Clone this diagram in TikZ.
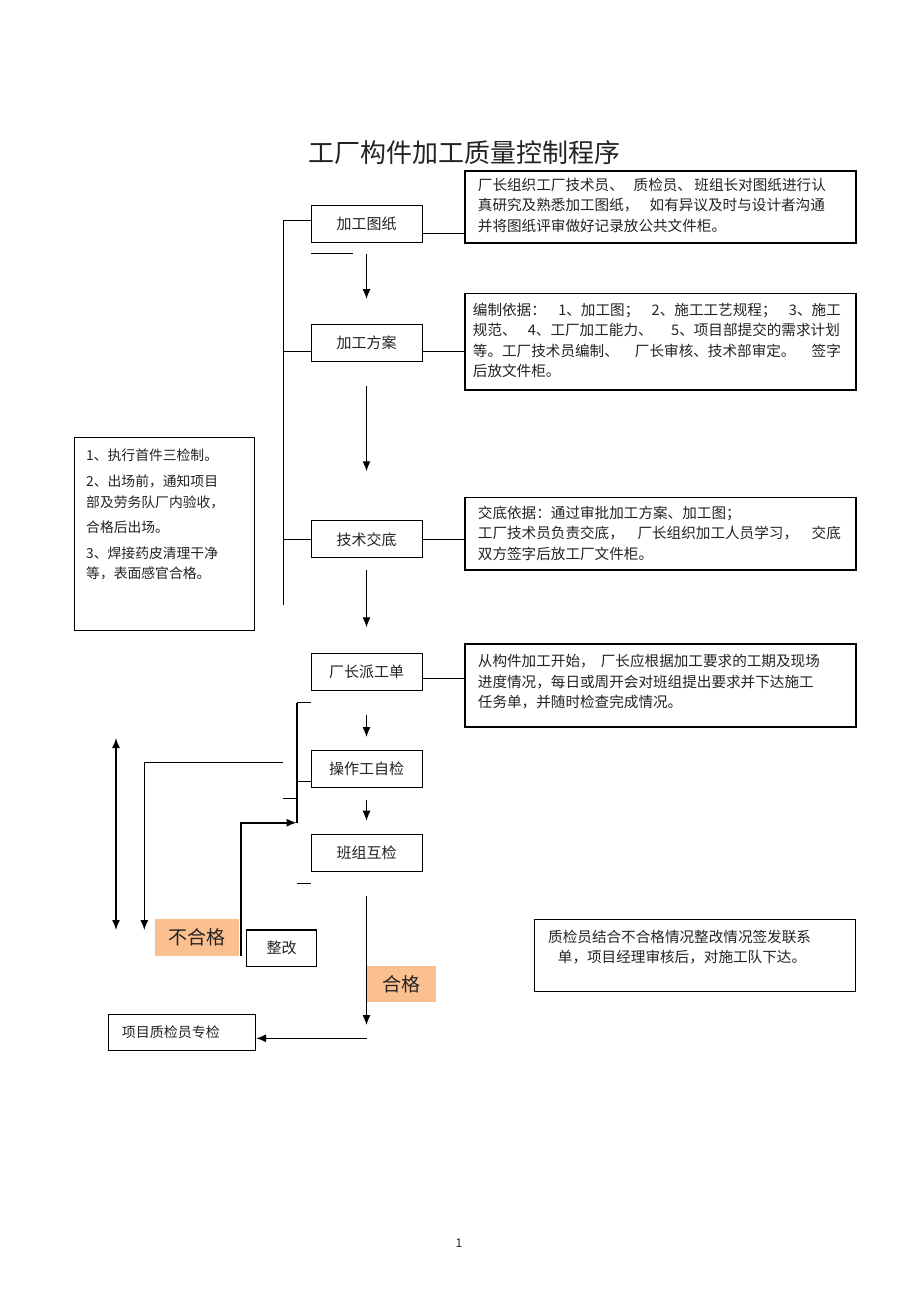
\documentclass[tikz,border=0pt]{standalone}
\usepackage{fontspec}
\newfontfamily\cjk{Noto Sans CJK SC}
\usetikzlibrary{arrows.meta,calc}
\definecolor{okfill}{RGB}{250,192,143}
\definecolor{ink}{RGB}{35,35,35}
\newcommand{\jl}[2]{\makebox[#1][s]{#2}}
\begin{document}
\begin{tikzpicture}[x=1pt,y=-1pt,
  every node/.style={text=ink},
  proc/.style={draw, line width=1pt, minimum width=111pt, minimum height=37pt, inner sep=0pt, font=\cjk\fontsize{15}{18}\selectfont},
  desc/.style={draw, line width=1.5pt, anchor=north west, inner sep=0pt},
  dtext/.style={anchor=north west, align=left, inner sep=0pt, font=\cjk\fontsize{14.6}{20.5}\selectfont},
  ln/.style={line width=0.8pt},
  thk/.style={line width=1.6pt},
  arr/.style={line width=1.1pt, -{Latex[length=10pt,width=8pt]}},
  darr/.style={line width=1.4pt, {Latex[length=10pt,width=8pt]}-{Latex[length=10pt,width=8pt]}},
  okbox/.style={fill=okfill, inner sep=0pt, font=\cjk\fontsize{19}{22}\selectfont}]
\fill[white] (0,0) rectangle (920,1303);
\useasboundingbox (0,0) rectangle (920,1303);

% title
\node[font=\cjk\fontsize{26}{30}\selectfont] (title) at (464,153) {工厂构件加工质量控制程序};

% process boxes
\node[proc] (A) at (366.5,223.5) {加工图纸};
\node[proc] (B) at (366.5,343) {加工方案};
\node[proc] (C) at (366.5,539.3) {技术交底};
\node[proc] (D) at (366.5,672.3) {厂长派工单};
\node[proc] (E) at (366.5,768.7) {操作工自检};
\node[proc] (F) at (366.5,853) {班组互检};

% description boxes
\node[desc, minimum width=391pt, minimum height=72pt] (d1) at (464,170) {};
\node[dtext] (t1) at (477.7,177.7) {\jl{348pt}{厂长组织工厂技术员、\hspace{0pt plus 1fill}质检员、\hspace{0pt plus 0.25fill}班组长对图纸进行认}\\
\jl{347pt}{真研究及熟悉加工图纸，\hfill 如有异议及时与设计者沟通}\\
并将图纸评审做好记录放公共文件柜。};

\node[desc, minimum width=391pt, minimum height=96.6pt] (d2) at (464,292.7) {};
\node[dtext] (t2) at (472.7,302.7) {\jl{368pt}{编制依据：\hfill 1、加工图；\hfill 2、施工工艺规程；\hfill 3、施工}\\
\jl{367pt}{规范、\hspace{0pt plus 0.6fill}4、工厂加工能力、\hfill 5、项目部提交的需求计划}\\
\jl{368pt}{等。工厂技术员编制、\hfill 厂长审核、技术部审定。\hfill 签字}\\
后放文件柜。};

\node[desc, minimum width=391pt, minimum height=72.6pt] (d3) at (464,496.7) {};
\node[dtext] (t3) at (477.7,505.5) {交底依据：通过审批加工方案、加工图；\\
\jl{363pt}{工厂技术员负责交底，\hfill 厂长组织加工人员学习，\hfill 交底}\\
双方签字后放工厂文件柜。};

\node[desc, minimum width=391pt, minimum height=83pt] (d4) at (464,643) {};
\node[dtext] (t4) at (477.7,654.4) {\jl{342pt}{从构件加工开始，\hfill 厂长应根据加工要求的工期及现场}\\
进度情况，每日或周开会对班组提出要求并下达施工\\
任务单，并随时检查完成情况。};

\node[desc, line width=1.2pt, minimum width=321pt, minimum height=72pt] (d5) at (534,919) {};
\node[dtext] (t5) at (548,929.7) {质检员结合不合格情况整改情况签发联系\\
\hspace*{9.7pt}单，项目经理审核后，对施工队下达。};

% left note box
\node[desc, line width=1.1pt, minimum width=180pt, minimum height=192.7pt] (note) at (74.3,437.3) {};
\node[dtext, font=\cjk\fontsize{13.8}{20.6}\selectfont] (tn) at (86,448.2) {1、执行首件三检制。\\[6.1pt]
2、出场前，通知项目\\
部及劳务队厂内验收，\\[4.4pt]
合格后出场。\\[5.4pt]
3、焊接药皮清理干净\\
等，表面感官合格。};

% lower boxes
\node[okbox, minimum width=84.3pt, minimum height=36.7pt] (bhg) at (197.2,937.4) {不合格};
\node[draw, line width=1.2pt, minimum width=70pt, minimum height=36.7pt, inner sep=0pt, font=\cjk\fontsize{15}{18}\selectfont] (zg) at (281.7,948.3) {整改};
\node[okbox, minimum width=69.3pt, minimum height=35.7pt] (hg) at (401.4,983.9) {合格};
\node[draw, line width=1pt, text width=120pt, align=left, inner xsep=13.7pt, minimum height=36pt, inner ysep=0pt, font=\cjk\fontsize{14}{17}\selectfont] (P) at (181.9,1032) {项目质检员专检};

% left trunk
\coordinate (t0) at (283.3,220.7);
\coordinate (tend) at (283.3,605);
\draw[ln] (tend) -- (t0) -- (t0 -| A.west);
\coordinate (b1) at ($(B.west)+(0,8.7)$);
\draw[ln] (b1) -- (b1 -| t0);
\draw[ln] (C.west) -- (C.west -| t0);

% connectors to description boxes
\coordinate (a1) at ($(A.east)+(0,10.2)$);
\draw[ln] (a1) -- (a1 -| d1.west);
\coordinate (b2) at ($(B.east)+(0,8.7)$);
\draw[ln] (b2) -- (b2 -| d2.west);
\draw[ln] (C.east) -- (C.east -| d3.west);
\coordinate (dd) at ($(D.east)+(0,5.7)$);
\draw[ln] (dd) -- (dd -| d4.west);

% short mark under A
\coordinate (m0) at (311,253);
\coordinate (m1) at (353,253);
\draw[ln] (m0) -- (m1);

% down arrows
\draw[arr, shorten <=11pt, shorten >=25pt] (A) -- (B);
\draw[arr, shorten <=24pt, shorten >=49pt] (B) -- (C);
\draw[arr, shorten <=11.5pt, shorten >=26pt] (C) -- (D);
\draw[arr, shorten <=23.3pt, shorten >=12.7pt] (D) -- (E);
\draw[arr, shorten <=12pt, shorten >=13.3pt] (E) -- (F);
\coordinate (q1) at (366.5,1025);
\draw[arr, shorten <=24pt] (F) -- (q1);
\coordinate (q2) at (366.5,1038.3);
\draw[arr, line width=1.3pt] (q2) -- (q2 -| P.east);

% bracket
\coordinate (bt) at (296.7,702.7);
\coordinate (bb) at (296.7,822.7);
\draw[thk] (bt) -- (bb);
\draw[ln] (bt) -- (bt -| E.west);
\coordinate (e1) at ($(E.west)+(0,13)$);
\draw[ln] (e1) -- (e1 -| bt);
\coordinate (s1) at (282.7,798.5);
\draw[ln] (s1) -- (s1 -| bt);
\coordinate (s2) at (296.7,883);
\draw[ln] (s2) -- (s2 -| F.west);

% return line
\coordinate (r0) at (283.3,762.7);
\coordinate (r2) at (144.3,930);
\draw[arr] (r0) -| (r2);

% double arrow
\coordinate (da1) at (116,738);
\coordinate (da2) at (116,930);
\draw[darr] (da1) -- (da2);

% from bu he ge to bracket
\draw[thk, -{Latex[length=10pt,width=8pt]}] ([xshift=1.4pt]bhg.south east) |- (bb);

% page number
\node[font=\cjk\fontsize{12}{14}\selectfont] (pg) at (459,1243) {1};
\end{tikzpicture}
\end{document}
